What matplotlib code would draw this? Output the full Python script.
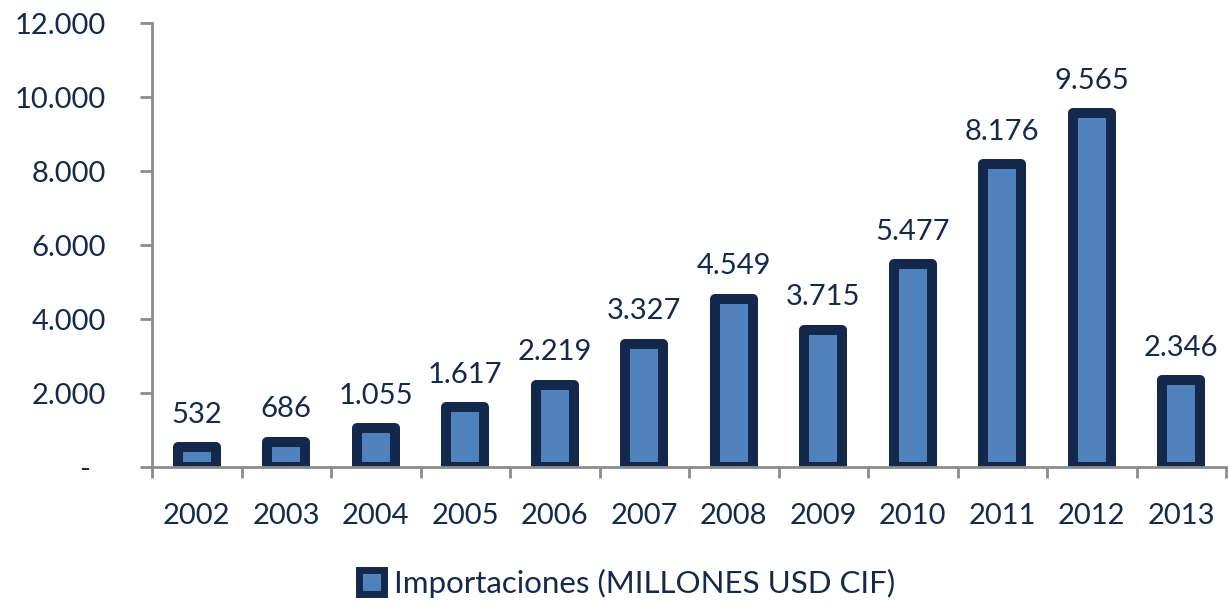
import matplotlib
matplotlib.use("Agg")
import matplotlib.pyplot as plt
from matplotlib.ticker import FuncFormatter, FixedLocator
from matplotlib.patches import Rectangle

years = ["2002", "2003", "2004", "2005", "2006", "2007", "2008", "2009", "2010", "2011", "2012", "2013"]
values = [532, 686, 1055, 1617, 2219, 3327, 4549, 3715, 5477, 8176, 9565, 2346]
series_name = "Importaciones (MILLONES USD CIF)"

TEXT = "#152a4a"
EDGE = "#13284a"
FILL = "#4f81bd"
GRAY = "#8c8c8c"

plt.rcParams['font.family'] = ['Lato', 'DejaVu Sans']

fig = plt.figure(figsize=(12.28, 6.06), dpi=100)
ax = fig.add_axes([152/1228, 1-467/606, (1226-152)/1228, (467-23)/606])

x = list(range(len(years)))
ax.bar(x, values, width=0.43, color=FILL, edgecolor=EDGE, linewidth=7.2, joinstyle='round', zorder=2)

def fmt(v):
    return f"{int(round(v)):,}".replace(",", ".")

for xi, v in zip(x, values):
    ax.annotate(fmt(v), (xi, v), xytext=(0, 14), textcoords='offset points',
                ha='center', va='bottom', fontsize=21, color=TEXT)

ax.set_xlim(-0.5, len(years) - 0.5)
ax.set_ylim(0, 12000)
ax.set_yticks(range(0, 12001, 2000))
ax.yaxis.set_major_formatter(FuncFormatter(lambda v, p: "-  " if v == 0 else fmt(v)))

ax.set_xticks(x)
ax.set_xticklabels(years)
ax.xaxis.set_minor_locator(FixedLocator([i - 0.5 for i in range(len(years) + 1)]))
ax.tick_params(axis='x', which='major', length=0, pad=26, labelsize=21, labelcolor=TEXT)
ax.tick_params(axis='x', which='minor', length=8, width=2, color=GRAY, direction='out')
ax.tick_params(axis='y', length=9, width=2, color=GRAY, pad=24, labelsize=21, labelcolor=TEXT)

for s in ['top', 'right']:
    ax.spines[s].set_visible(False)
for s in ['left', 'bottom']:
    ax.spines[s].set_color(GRAY)
    ax.spines[s].set_linewidth(2)
    ax.spines[s].set_zorder(3)

handle = Rectangle((0, 0), 1, 1, facecolor=FILL, edgecolor=EDGE, linewidth=5, joinstyle='round')
fig.legend([handle], [series_name], loc='center', bbox_to_anchor=(627/1228, 1-583/606),
           frameon=False, fontsize=22.5, labelcolor=TEXT, handlelength=0.8, handleheight=0.8,
           handletextpad=0.3)

fig.savefig("out.png", dpi=100)
